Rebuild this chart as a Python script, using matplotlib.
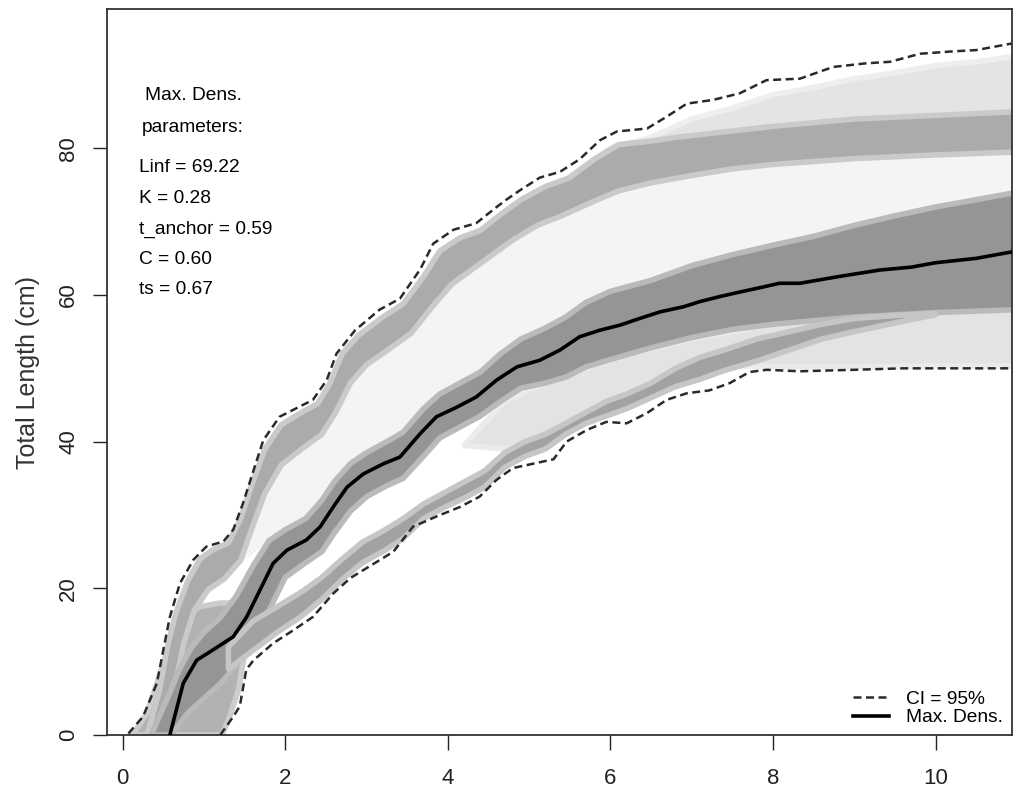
import numpy as np
import matplotlib
matplotlib.use('Agg')
from matplotlib import pyplot as plt

plt.rcParams['font.family'] = ['Liberation Sans', 'DejaVu Sans']

# max. density growth curve (age in years, length in cm)
maxdens_t = [0.58, 0.745, 0.91, 1.11, 1.36, 1.525, 1.69, 1.85, 2.02, 2.26, 2.43, 2.59, 2.76,
             2.96, 3.21, 3.41, 3.66, 3.86, 4.11, 4.35, 4.60, 4.85, 5.13, 5.38, 5.62, 5.87,
             6.12, 6.36, 6.61, 6.90, 7.10, 7.35, 7.59, 7.84, 8.08, 8.33, 8.8, 9.31, 9.7,
             10.0, 10.5, 10.95]
maxdens_l = [0, 7.05, 10.2, 11.6, 13.4, 16.1, 19.8, 23.4, 25.2, 26.6, 28.4, 31.1, 33.8,
             35.6, 37.0, 37.9, 41.1, 43.4, 44.7, 46.1, 48.4, 50.2, 51.1, 52.5, 54.3, 55.2,
             55.9, 56.8, 57.7, 58.4, 59.1, 59.8, 60.4, 61.0, 61.6, 61.6, 62.5, 63.4, 63.8,
             64.4, 65.0, 65.9]

# 95% confidence envelope
ci_up_t = [0.07, 0.25, 0.42, 0.5, 0.58, 0.705, 0.87, 1.03, 1.24, 1.36, 1.48, 1.61, 1.73,
           1.93, 2.18, 2.34, 2.51, 2.63, 2.86, 3.16, 3.41, 3.66, 3.82, 4.07, 4.35, 4.6,
           4.72, 4.89, 5.13, 5.38, 5.62, 5.87, 6.08, 6.45, 6.69, 6.94, 7.26, 7.59, 7.92,
           8.33, 8.74, 9.15, 9.44, 9.81, 10.18, 10.5, 10.94]
ci_up_l = [0.2, 2.5, 7.05, 11.6, 16.1, 20.7, 23.9, 25.7, 26.4, 28.0, 31.6, 36.1, 40.2,
           43.4, 44.8, 45.7, 48.4, 52.0, 55.2, 58.0, 59.5, 63.5, 67.0, 68.9, 69.8, 72.0,
           73.0, 74.3, 76.0, 76.8, 78.5, 81.1, 82.3, 82.7, 84.3, 86.1, 86.6, 87.5, 89.3,
           89.5, 91.1, 91.6, 91.8, 92.9, 93.2, 93.4, 94.3]
ci_lo_t = [1.2, 1.36, 1.44, 1.52, 1.61, 1.85, 2.1, 2.34, 2.59, 2.80, 3.08, 3.33, 3.57,
           3.86, 4.15, 4.39, 4.6, 4.80, 5.05, 5.30, 5.46, 5.71, 5.95, 6.2, 6.45, 6.69,
           6.94, 7.22, 7.47, 7.71, 7.92, 8.33, 9.0, 9.6, 10.94]
ci_lo_l = [0, 2.5, 3.9, 8.9, 10.2, 12.5, 14.3, 16.1, 19.3, 21.4, 23.3, 25.0, 28.4,
           29.8, 31.1, 32.5, 34.8, 36.4, 37.0, 37.6, 40.0, 41.6, 42.7, 42.5, 43.9, 45.7,
           46.6, 47.0, 48.0, 49.5, 49.8, 49.6, 49.8, 50.0, 50.0]

# bundles of bootstrap curves (upper / lower edges)
up_top_t = [0.3, 0.45, 0.55, 0.65, 0.8, 0.95, 1.1, 1.3, 1.45, 1.6, 1.75, 1.95, 2.2, 2.4,
            2.55, 2.7, 2.9, 3.2, 3.45, 3.7, 3.9, 4.15, 4.4, 4.65, 4.9, 5.2, 5.5, 5.8,
            6.1, 6.5, 6.8, 7.2, 8, 9, 10, 11]
up_top_l = [0, 6, 12, 16.5, 21, 24, 25.2, 26.2, 29.5, 34.5, 39, 42.3, 44, 45.2,
            48, 52, 54.5, 57, 58.8, 62.5, 66, 67.8, 68.8, 71, 73, 74.8, 76, 78.5,
            80.5, 81, 81.5, 82, 83, 84, 84.5, 85]
up_bot_t = [0.55, 0.65, 0.75, 0.88, 1.05, 1.25, 1.45, 1.6, 1.75, 1.95, 2.2, 2.45, 2.62,
            2.8, 3.0, 3.3, 3.55, 3.8, 4.05, 4.3, 4.55, 4.8, 5.1, 5.4, 5.8, 6.1, 6.5, 7,
            7.5, 8, 9, 10, 11]
up_bot_l = [0, 7, 12.5, 17, 19.8, 21.3, 23.8, 28.5, 33, 36.8, 39, 41, 44,
            48, 50.5, 52.8, 54.8, 58.3, 61.5, 63.5, 65.5, 67.5, 69.5, 70.8, 72.8, 74.2,
            75.3, 76.3, 77.2, 77.8, 78.6, 79.1, 79.5]
up_light_t = [5.5, 6, 6.5, 7, 7.5, 8, 8.5, 9, 9.5, 10, 10.5, 11]
up_light_l = [76.2, 80, 81.5, 84, 85.5, 87.3, 88.3, 89.5, 90.3, 91.3, 91.8, 92.6]

mid_top_t = [0.35, 0.55, 0.7, 0.85, 1.0, 1.2, 1.4, 1.6, 1.8, 2.0, 2.25, 2.45, 2.6, 2.8,
             3.0, 3.25, 3.45, 3.7, 3.9, 4.15, 4.4, 4.65, 4.9, 5.2, 5.45, 5.7, 6.0, 6.5,
             7, 7.5, 8, 8.5, 9, 9.5, 10, 10.5, 11]
mid_top_l = [0, 5, 9, 12, 14, 16, 19, 23, 26.5, 28, 29.5, 32, 34.5, 37,
             38.5, 40, 41.3, 44.5, 46.5, 48, 49.5, 52, 54, 55.5, 57, 59, 60.5, 62,
             64, 65.5, 66.8, 68, 69.5, 70.8, 72, 73, 74]
mid_bot_t = [0.6, 0.8, 1.0, 1.2, 1.4, 1.6, 1.8, 2.0, 2.25, 2.45, 2.6, 2.8, 3.0, 3.25,
             3.45, 3.7, 3.9, 4.15, 4.4, 4.65, 4.9, 5.2, 5.45, 5.7, 6, 6.5, 7, 7.5, 8,
             9, 10, 11]
mid_bot_l = [0, 3, 5, 7, 9.5, 13, 17, 21.5, 23.5, 25, 27.5, 30.5, 32.5, 34,
             35, 38, 40.5, 42, 43.5, 45.5, 47.3, 48, 48.8, 50.2, 51.2, 52.8, 54.2, 55.3, 56,
             57, 57.6, 58]

lo_t = [1.3, 1.6, 1.9, 2.2, 2.45, 2.7, 2.95, 3.2, 3.45, 3.7, 3.95, 4.2, 4.45, 4.7, 4.95,
        5.2, 5.45, 5.7, 5.95, 6.2, 6.5, 6.8, 7.1, 7.4, 7.8, 8.2, 8.6, 9, 9.5, 10]
lo_top_l = [12, 15.5, 17.5, 19.5, 21.5, 24, 26.3, 27.8, 29.5, 31.5, 33, 34.5, 36, 38.5, 40,
            41, 42.5, 44, 45.5, 46.5, 48, 50, 51.5, 52.5, 54, 55, 56, 56.8, 57.2, 57.5]
lo_bot_l = [9, 11.5, 14, 16.2, 18.5, 21.2, 23.5, 25, 26.8, 29.5, 31, 32.3, 33.8, 36.5, 38,
            39, 41, 42.5, 43.5, 44.5, 46, 47.5, 48.5, 49.7, 51, 52.5, 54, 55, 56.2, 57.3]

blob_t = [0.12, 0.3, 0.45, 0.6, 0.75, 0.95, 1.2, 1.45, 1.55, 1.5, 1.42, 1.3, 1.22]
blob_l = [0, 3, 8, 13, 16, 17.5, 18, 18, 15, 11, 6, 2, 0]

wash_t = [4.2, 4.7, 5.2, 5.7, 6.2, 7, 8, 9, 10, 11]
wash_top_l = [39.5, 45.5, 48, 50, 51.8, 54, 56, 57, 57.6, 58]
wash_bot_l = [39.5, 39, 40.5, 43.5, 46.5, 50.5, 50.2, 50.2, 50.3, 50.3]

params = ["Linf = 69.22", "K = 0.28", "t_anchor = 0.59", "C = 0.60", "ts = 0.67"]


def band(ax, t_top, l_top, t_bot, l_bot, color, edge, lw=4):
    xs = list(t_top) + list(t_bot)[::-1]
    ys = list(l_top) + list(l_bot)[::-1]
    ax.fill(xs, ys, facecolor=color, edgecolor=edge, lw=lw, joinstyle='round', zorder=2)


fig = plt.figure(figsize=(10.13, 7.96), dpi=100)
ax = fig.add_axes([107 / 1013, 61 / 796, 905 / 1013, 725.7 / 796])

# light washes of scattered curves
band(ax, up_bot_t[4:], up_bot_l[4:], mid_top_t[8:], mid_top_l[8:], '#f4f4f4', '#f4f4f4', 0)
band(ax, wash_t, wash_top_l, wash_t, wash_bot_l, '#e3e3e3', '#ebebeb')
band(ax, up_light_t, up_light_l, up_top_t[26:], up_top_l[26:], '#e4e4e4', '#eeeeee')
ax.fill(blob_t, blob_l, facecolor='#b2b2b2', edgecolor='#cdcdcd', lw=4, zorder=2)

# dense bundles
band(ax, up_top_t, up_top_l, up_bot_t, up_bot_l, '#ababab', '#cacaca')
band(ax, mid_top_t, mid_top_l, mid_bot_t, mid_bot_l, '#959595', '#bababa')
band(ax, lo_t, lo_top_l, lo_t, lo_bot_l, '#a2a2a2', '#c6c6c6')

ax.plot(ci_up_t, ci_up_l, color='#2a2a2a', lw=1.8, dashes=(3.2, 1.8), zorder=4)
ax.plot(ci_lo_t, ci_lo_l, color='#2a2a2a', lw=1.8, dashes=(3.2, 1.8), zorder=4,
        label='CI = 95%')
ax.plot(maxdens_t, maxdens_l, color='black', lw=2.6, zorder=5, label='Max. Dens.')

ax.set_xlim(-0.193, 10.94)
ax.set_ylim(0, 98.96)
ax.set_xticks([0, 2, 4, 6, 8, 10])
ax.set_yticks([0, 20, 40, 60, 80])
ax.set_yticklabels(['0', '20', '40', '60', '80'], rotation=90, va='center')
ax.tick_params(axis='x', length=11, width=1, labelsize=16, pad=13, colors='#222')
ax.tick_params(axis='y', length=10, width=1, labelsize=16, pad=10, colors='#222')
for s in ax.spines.values():
    s.set_linewidth(1.3)
    s.set_color('#333')

ax.set_ylabel('Total Length (cm)', fontsize=18, color='#333')
ax.yaxis.set_label_coords(-0.074, 0.5)

fig.text(193 / 1013, 1 - 96 / 796, 'Max. Dens.', fontsize=13.8, ha='center', va='center')
fig.text(193 / 1013, 1 - 127 / 796, 'parameters:', fontsize=13.8, ha='center', va='center')
for i, p in enumerate(params):
    fig.text(139 / 1013, 1 - (168 + 30.5 * i) / 796, p, fontsize=13.8, ha='left', va='center')

ax.legend(loc='lower right', bbox_to_anchor=(0.990, 0.012), frameon=False, fontsize=13.8,
          handlelength=1.85, handletextpad=0.9, labelspacing=0.05, borderpad=0,
          borderaxespad=0)

plt.savefig('out.png', dpi=100)
plt.close(fig)
